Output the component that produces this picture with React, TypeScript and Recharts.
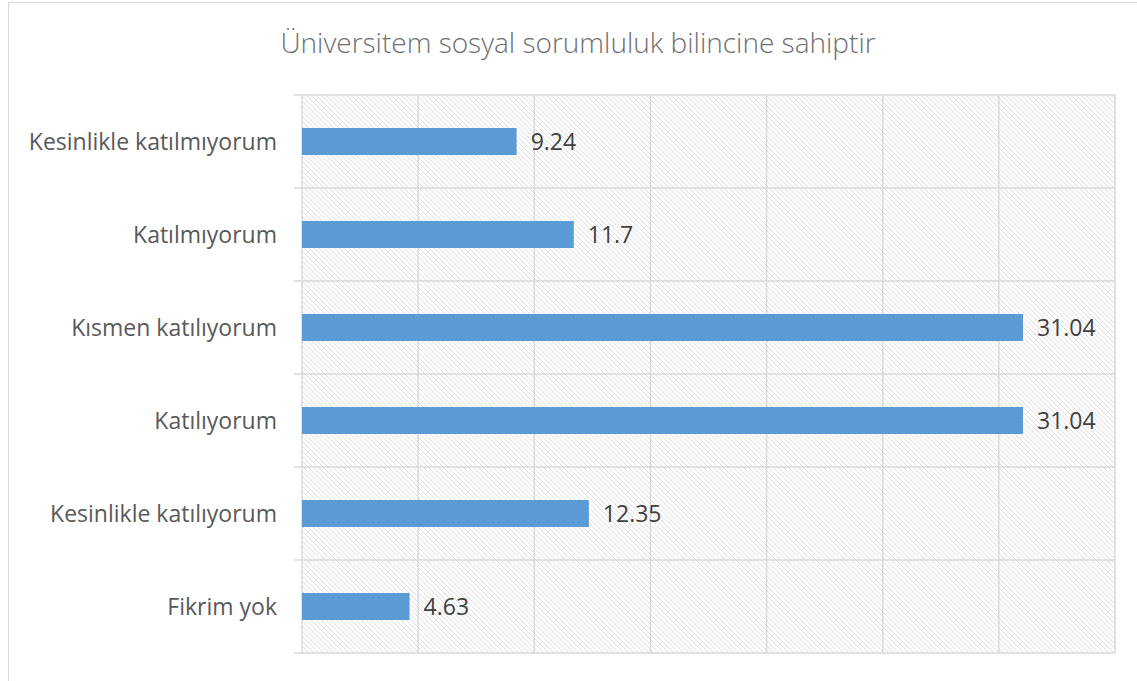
import React from 'react';
import { BarChart, Bar, XAxis, YAxis, CartesianGrid, LabelList } from 'recharts';

const categories = [
  'Kesinlikle katılmıyorum',
  'Katılmıyorum',
  'Kısmen katılıyorum',
  'Katılıyorum',
  'Kesinlikle katılıyorum',
  'Fikrim yok',
];
const values = [9.24, 11.7, 31.04, 31.04, 12.35, 4.63];
const valueTicks = [0, 5, 10, 15, 20, 25, 30, 35];
const title = 'Üniversitem sosyal sorumluluk bilincine sahiptir';

const data = categories.map((c, i) => ({ name: c, value: values[i] }));

const FONT = '"Open Sans", sans-serif';
const GRID = '#d9d9d9';
const TICK_MARGIN = 25;
const STUB = 8;

const CatTick = (props: any) => {
  const { x, y, payload, index, visibleTicksCount } = props;
  const off = payload && payload.offset != null ? payload.offset : 0;
  const right = x + TICK_MARGIN;
  return (
    <g>
      <line x1={right - STUB} x2={right} y1={y - off} y2={y - off} stroke={GRID} strokeWidth={1.5} />
      {index === visibleTicksCount - 1 && (
        <line x1={right - STUB} x2={right} y1={y + off} y2={y + off} stroke={GRID} strokeWidth={1.5} />
      )}
      <text
        x={x}
        y={y}
        dy="0.355em"
        textAnchor="end"
        fontSize={23}
        fill="#595959"
        fontFamily={FONT}
      >
        {payload.value}
      </text>
    </g>
  );
};

// band boundaries of the category axis (band scale without padding)
const bandBoundaries = (p: any) => {
  try {
    const o = p && p.offset;
    if (!o) return [];
    const n = categories.length;
    const out: number[] = [];
    for (let i = 0; i <= n; i++) out.push(o.top + (o.height * i) / n);
    return out;
  } catch (e) {
    return [];
  }
};

export default function App() {
  return (
    <div
      style={{
        position: 'absolute',
        left: 8,
        top: 2,
        width: 1140,
        height: 700,
        border: '1px solid #d9d9d9',
        background: '#fff',
        fontFamily: FONT,
      }}
    >
      <div
        style={{
          position: 'absolute',
          left: 0,
          width: 1138,
          top: 20,
          textAlign: 'center',
          fontSize: 28,
          fontWeight: 300,
          color: '#6f6f6f',
          fontFamily: FONT,
          lineHeight: 'normal',
        }}
      >
        {title}
      </div>
      <BarChart
        width={1128}
        height={680}
        data={data}
        layout="vertical"
        margin={{ top: 92, right: 22, bottom: 30, left: 0 }}
      >
        <defs>
          <pattern id="hatch" patternUnits="userSpaceOnUse" width="5" height="5">
            <rect width="5" height="5" fill="#ffffff" />
            <path d="M-1,-1 l2,2 M0,0 l5,5 M4,4 l2,2" stroke="#dedede" strokeWidth="1" />
          </pattern>
        </defs>
        <XAxis type="number" domain={[0, 35]} ticks={valueTicks} hide />
        <YAxis
          type="category"
          dataKey="name"
          width={293}
          axisLine={false}
          tickLine={false}
          tickSize={0}
          tickMargin={TICK_MARGIN}
          tick={<CatTick />}
        />
        <CartesianGrid
          fill="url(#hatch)"
          stroke={GRID}
          strokeWidth={1.5}
          verticalValues={valueTicks}
          horizontalCoordinatesGenerator={bandBoundaries}
        />
        <Bar dataKey="value" fill="#5b9bd5" barSize={27} isAnimationActive={false}>
          <LabelList
            dataKey="value"
            position="right"
            offset={14}
            style={{ fontSize: 23, fill: '#404040', fontFamily: FONT }}
          />
        </Bar>
      </BarChart>
    </div>
  );
}
